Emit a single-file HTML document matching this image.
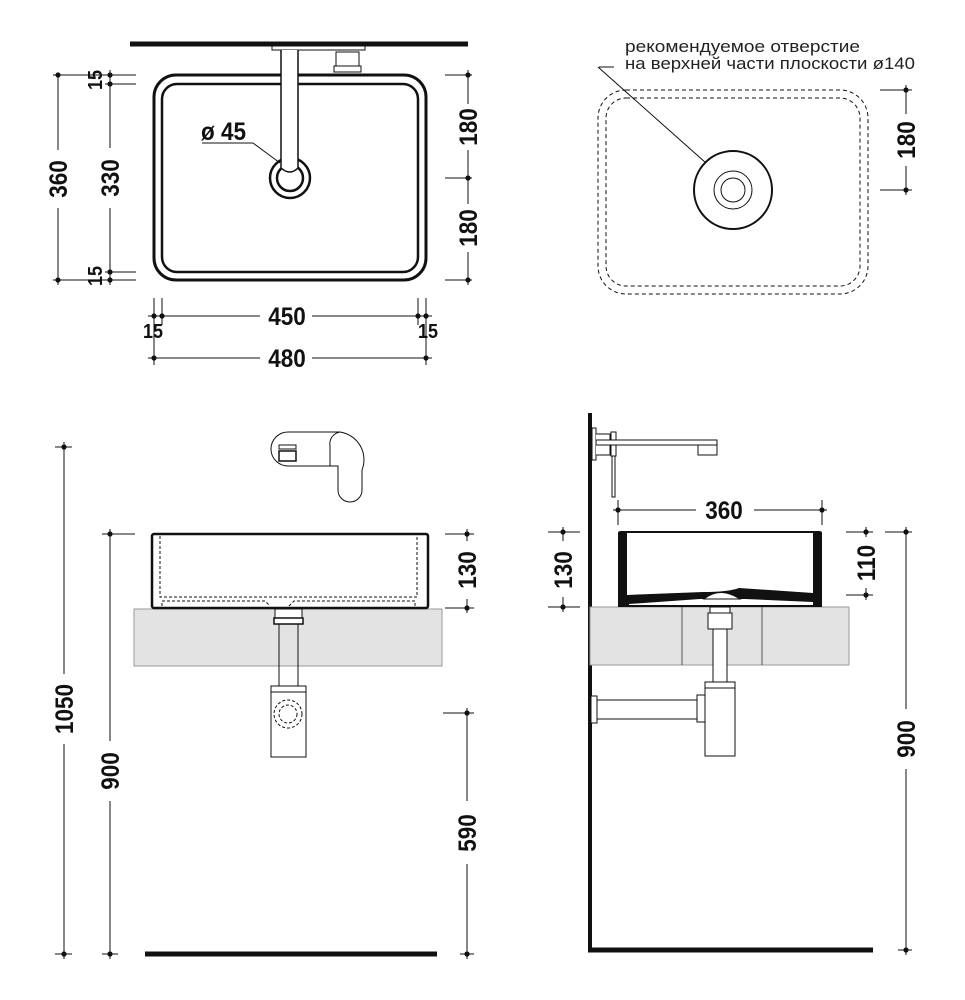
<!DOCTYPE html>
<html><head><meta charset="utf-8"><style>
html,body{margin:0;padding:0;background:#fff}
svg{display:block}
.d{font-family:"Liberation Sans",sans-serif;font-weight:bold;font-size:25px;fill:#111}
.s{font-family:"Liberation Sans",sans-serif;font-size:16.5px;fill:#222}
</style></head><body>
<svg width="965" height="1000" viewBox="0 0 965 1000" xmlns="http://www.w3.org/2000/svg">
<g stroke="#111" fill="none" stroke-width="1">
<line x1="130" y1="44" x2="468" y2="44" stroke-width="5"/>
<rect x="272" y="46" width="93" height="4" fill="#fff"/>
<rect x="154" y="75" width="272" height="205" rx="22" stroke-width="3" fill="#fff"/>
<rect x="162" y="84" width="256" height="188" rx="15" stroke-width="2.5"/>
<circle cx="290" cy="178" r="20" stroke-width="2.5" fill="#fff"/>
<circle cx="290" cy="178" r="13" stroke-width="2.5"/>
<path d="M281 50 V168 Q290 176 298 168 V50" fill="#fff" stroke-width="1.5"/>
<rect x="336" y="52" width="23" height="14" fill="#fff"/>
<rect x="334" y="66" width="27" height="6" fill="#fff"/>
<line x1="202" y1="143" x2="253" y2="143"/>
<line x1="253" y1="143" x2="280" y2="163"/>
<line x1="53" y1="75" x2="136" y2="75"/><line x1="53" y1="280" x2="136" y2="280"/>
<line x1="105" y1="84" x2="136" y2="84"/><line x1="105" y1="272" x2="136" y2="272"/>
<line x1="58" y1="75" x2="58" y2="150"/><line x1="58" y1="208" x2="58" y2="285"/>
<line x1="110" y1="70" x2="110" y2="148"/><line x1="110" y1="208" x2="110" y2="285"/>
<line x1="445" y1="75" x2="472" y2="75"/><line x1="445" y1="178" x2="472" y2="178"/><line x1="445" y1="280" x2="472" y2="280"/>
<line x1="468" y1="70" x2="468" y2="104"/><line x1="468" y1="150" x2="468" y2="204"/><line x1="468" y1="252" x2="468" y2="285"/>
<line x1="154" y1="298" x2="154" y2="365"/><line x1="162" y1="298" x2="162" y2="325"/>
<line x1="418" y1="298" x2="418" y2="325"/><line x1="426" y1="298" x2="426" y2="365"/>
<line x1="148" y1="316" x2="260" y2="316"/><line x1="312" y1="316" x2="432" y2="316"/>
<line x1="148" y1="358" x2="260" y2="358"/><line x1="312" y1="358" x2="432" y2="358"/>

<rect x="598" y="90" width="270" height="204" rx="28" stroke-dasharray="4 3"/>
<rect x="606" y="98" width="254" height="188" rx="20" stroke-dasharray="4 3"/>
<circle cx="733" cy="190" r="39" stroke-width="2"/>
<circle cx="733" cy="190" r="19"/>
<circle cx="733" cy="190" r="12"/>
<line x1="599" y1="67" x2="614" y2="67"/>
<line x1="598" y1="67" x2="706" y2="163"/>
<line x1="880" y1="90" x2="912" y2="90"/><line x1="880" y1="190" x2="912" y2="190"/>
<line x1="906" y1="85" x2="906" y2="114"/><line x1="906" y1="166" x2="906" y2="195"/>

<line x1="145" y1="954" x2="437" y2="954" stroke-width="5"/>
<path d="M288 432 H340 A28 28 0 0 1 362 470 V490 A12 12 0 0 1 338 490 V466 H288 A17 17 0 0 1 288 432 Z" fill="#fff"/>
<path d="M340 432 A12 12 0 0 0 330 446 V466" />
<rect x="279" y="445" width="17" height="4"/><rect x="279" y="451" width="17" height="10" stroke-width="1.5"/>
<rect x="134" y="609" width="308" height="57" fill="#e3e3e3" stroke="#999"/>
<rect x="152" y="534" width="276" height="74" rx="2" stroke-width="2.5" fill="#fff"/>
<path d="M160 536 V597 H417 V536" stroke-dasharray="3 2"/>
<path d="M162 606 V601 H265 L270 606 M289 606 L294 601 H415 V606" stroke-dasharray="3 2"/>
<rect x="275" y="609" width="27" height="9" fill="#fff"/>
<rect x="274" y="618" width="29" height="6" fill="#fff" stroke-width="1.5"/>
<rect x="279" y="624" width="19" height="62" fill="none"/>
<rect x="271" y="686" width="35" height="6" fill="#fff"/>
<rect x="271" y="692" width="35" height="65" fill="#fff"/>
<circle cx="288" cy="714" r="14" stroke-dasharray="3 2"/>
<circle cx="288" cy="714" r="9" stroke-dasharray="3 2"/>
<line x1="55" y1="447" x2="72" y2="447"/><line x1="64" y1="442" x2="64" y2="674"/><line x1="64" y1="744" x2="64" y2="959"/>
<line x1="55" y1="954" x2="72" y2="954"/>
<line x1="102" y1="534" x2="135" y2="534"/><line x1="110" y1="529" x2="110" y2="741"/><line x1="110" y1="801" x2="110" y2="959"/>
<line x1="102" y1="954" x2="118" y2="954"/>
<line x1="445" y1="534" x2="474" y2="534"/><line x1="445" y1="608" x2="474" y2="608"/>
<line x1="467" y1="529" x2="467" y2="541"/><line x1="467" y1="599" x2="467" y2="613"/>
<line x1="443" y1="713" x2="474" y2="713"/><line x1="467" y1="708" x2="467" y2="801"/><line x1="467" y1="864" x2="467" y2="959"/>
<line x1="460" y1="954" x2="474" y2="954"/>

<line x1="590" y1="413" x2="590" y2="952" stroke-width="4"/>
<line x1="588" y1="950" x2="873" y2="950" stroke-width="5"/>
<rect x="592" y="428" width="4" height="32" fill="#fff"/>
<path d="M596 434 H610 V455 H596" fill="#fff"/>
<rect x="611" y="432" width="5" height="24" fill="#fff"/>
<rect x="596" y="440" width="121" height="5" fill="#fff"/>
<rect x="698" y="445" width="19" height="10" fill="#fff"/>
<rect x="612" y="456" width="3" height="41" fill="#fff"/>
<rect x="590" y="607" width="259" height="58" fill="#e3e3e3" stroke="#999"/>
<line x1="682" y1="607" x2="682" y2="665" stroke="#555"/><line x1="762" y1="607" x2="762" y2="665" stroke="#555"/>
<path d="M618 533 Q618 531 621 531 H819 Q822 531 822 533 V607 H618 Z" fill="#111" stroke="none"/>
<path d="M627 533 H813 V593 L739 588 Q728 592 703 592 L627 595 Z" fill="#fff" stroke="none"/>
<path d="M629 604 L700 599 H745 L813 602 V605 H629 Z" fill="#fff" stroke="none"/>
<path d="M704 599 Q720 586 740 599 Z" fill="#fff" stroke-width="1"/>
<rect x="710" y="607" width="20" height="6" fill="#fff"/>
<rect x="708" y="613" width="24" height="16" fill="#fff"/>
<rect x="713" y="629" width="14" height="53" fill="#fff"/>
<rect x="705" y="682" width="30" height="6" fill="#fff"/>
<rect x="705" y="688" width="30" height="68" fill="#fff"/>
<rect x="697" y="695" width="8" height="27" fill="#fff"/>
<rect x="596" y="700" width="101" height="19" fill="#fff"/>
<rect x="591" y="696" width="6" height="27" fill="#fff"/>
<line x1="618" y1="500" x2="618" y2="525"/><line x1="822" y1="500" x2="822" y2="525"/>
<line x1="613" y1="510" x2="696" y2="510"/><line x1="754" y1="510" x2="827" y2="510"/>
<line x1="548" y1="532" x2="580" y2="532"/><line x1="548" y1="607" x2="580" y2="607"/>
<line x1="563" y1="527" x2="563" y2="541"/><line x1="563" y1="597" x2="563" y2="612"/>
<line x1="846" y1="532" x2="873" y2="532"/><line x1="846" y1="595" x2="873" y2="595"/>
<line x1="866" y1="527" x2="866" y2="537"/><line x1="866" y1="588" x2="866" y2="600"/>
<line x1="885" y1="532" x2="912" y2="532"/><line x1="906" y1="527" x2="906" y2="709"/><line x1="906" y1="769" x2="906" y2="955"/>
<line x1="898" y1="950" x2="912" y2="950"/>
</g>
<g fill="#111">
<circle cx="58" cy="75" r="2.6"/><circle cx="58" cy="280" r="2.6"/>
<circle cx="110" cy="75" r="2.6"/><circle cx="110" cy="84" r="2.6"/><circle cx="110" cy="272" r="2.6"/><circle cx="110" cy="280" r="2.6"/>
<circle cx="468" cy="75" r="2.6"/><circle cx="468" cy="178" r="2.6"/><circle cx="468" cy="280" r="2.6"/>
<circle cx="154" cy="316" r="2.6"/><circle cx="162" cy="316" r="2.6"/><circle cx="418" cy="316" r="2.6"/><circle cx="426" cy="316" r="2.6"/>
<circle cx="154" cy="358" r="2.6"/><circle cx="426" cy="358" r="2.6"/>
<circle cx="906" cy="90" r="2.6"/><circle cx="906" cy="190" r="2.6"/>
<circle cx="64" cy="447" r="2.6"/><circle cx="64" cy="954" r="2.6"/>
<circle cx="110" cy="534" r="2.6"/><circle cx="110" cy="954" r="2.6"/>
<circle cx="467" cy="534" r="2.6"/><circle cx="467" cy="608" r="2.6"/><circle cx="467" cy="713" r="2.6"/><circle cx="467" cy="954" r="2.6"/>
<circle cx="618" cy="510" r="2.6"/><circle cx="822" cy="510" r="2.6"/>
<circle cx="563" cy="532" r="2.6"/><circle cx="563" cy="607" r="2.6"/>
<circle cx="866" cy="532" r="2.6"/><circle cx="866" cy="595" r="2.6"/>
<circle cx="906" cy="532" r="2.6"/><circle cx="906" cy="950" r="2.6"/>
</g>
<g class="d">
<text transform="translate(201 140) scale(0.9 1)">ø 45</text>
<text transform="translate(67 179) rotate(-90) scale(0.9 1)" text-anchor="middle">360</text>
<text transform="translate(119 178) rotate(-90) scale(0.9 1)" text-anchor="middle">330</text>
<text transform="translate(102 80) rotate(-90) scale(0.72 0.8)" text-anchor="middle">15</text>
<text transform="translate(102 276) rotate(-90) scale(0.72 0.8)" text-anchor="middle">15</text>
<text transform="translate(477 127) rotate(-90) scale(0.9 1)" text-anchor="middle">180</text>
<text transform="translate(477 228) rotate(-90) scale(0.9 1)" text-anchor="middle">180</text>
<text transform="translate(287 325) scale(0.9 1)" text-anchor="middle">450</text>
<text transform="translate(287 367) scale(0.9 1)" text-anchor="middle">480</text>
<text transform="translate(153 338) scale(0.72 0.8)" text-anchor="middle">15</text>
<text transform="translate(428 338) scale(0.72 0.8)" text-anchor="middle">15</text>
<text transform="translate(915 140) rotate(-90) scale(0.9 1)" text-anchor="middle">180</text>
<text transform="translate(73 709) rotate(-90) scale(0.9 1)" text-anchor="middle">1050</text>
<text transform="translate(119 771) rotate(-90) scale(0.9 1)" text-anchor="middle">900</text>
<text transform="translate(476 570) rotate(-90) scale(0.9 1)" text-anchor="middle">130</text>
<text transform="translate(476 833) rotate(-90) scale(0.9 1)" text-anchor="middle">590</text>
<text transform="translate(724 519) scale(0.9 1)" text-anchor="middle">360</text>
<text transform="translate(572 570) rotate(-90) scale(0.9 1)" text-anchor="middle">130</text>
<text transform="translate(875 563) rotate(-90) scale(0.9 1)" text-anchor="middle">110</text>
<text transform="translate(915 739) rotate(-90) scale(0.9 1)" text-anchor="middle">900</text>
</g>
<text class="s" x="625" y="52" textLength="235" lengthAdjust="spacingAndGlyphs">рекомендуемое отверстие</text>
<text class="s" x="625" y="69" textLength="290" lengthAdjust="spacingAndGlyphs">на верхней части плоскости ø140</text>
</svg>
</body></html>
